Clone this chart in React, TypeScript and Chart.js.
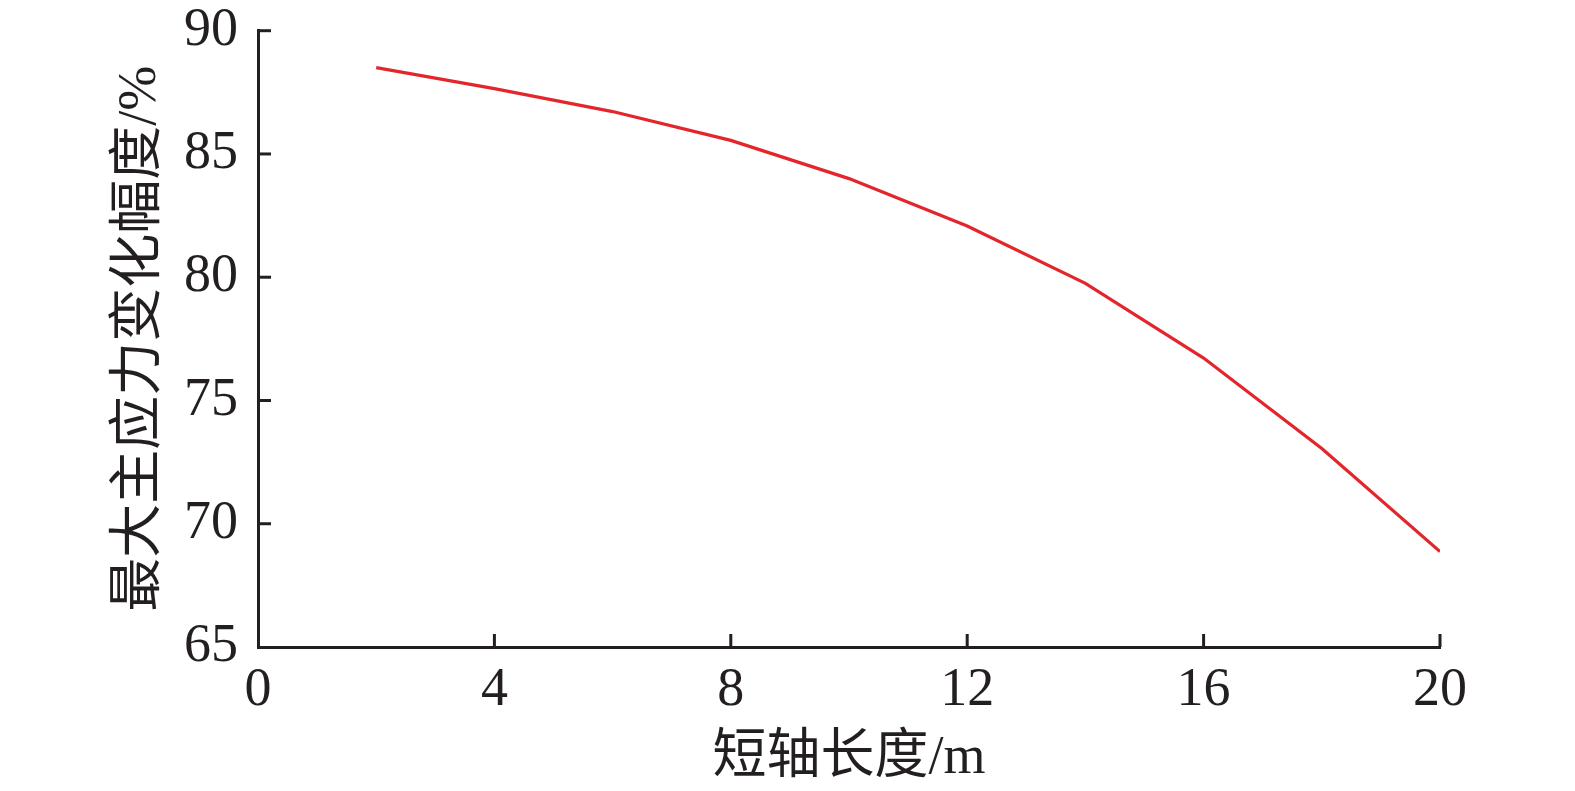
import React, { useEffect, useRef } from "react";
import { Chart, registerables } from "chart.js";

Chart.register(...registerables);

const xValues = [2, 4, 6, 8, 10, 12, 14, 16, 18, 20];
const yValues = [88.5, 87.65, 86.72, 85.55, 84.0, 82.08, 79.75, 76.72, 73.05, 68.87];
const xTitle = "短轴长度/m";
const yTitle = "最大主应力变化幅度/%";
const xMin = 0, xMax = 20, xStep = 4;
const yMin = 65, yMax = 90, yStep = 5;

const W = 1575, H = 791;
const INK = "#231f20";
const FONT = "'Liberation Serif', 'Noto Sans CJK SC', serif";

const innerTicks = {
  id: "innerTicks",
  afterDraw(chart: any) {
    const { ctx, chartArea } = chart;
    const xs = chart.scales.x, ys = chart.scales.y;
    ctx.save();
    ctx.strokeStyle = INK;
    ctx.lineWidth = 3;
    const len = 13;
    ys.ticks.forEach((t: any) => {
      const py = ys.getPixelForValue(t.value);
      if (t.value === yMin) return;
      ctx.beginPath();
      ctx.moveTo(chartArea.left, py);
      ctx.lineTo(chartArea.left + len, py);
      ctx.stroke();
    });
    xs.ticks.forEach((t: any) => {
      const px = xs.getPixelForValue(t.value);
      if (t.value === xMin) return;
      ctx.beginPath();
      ctx.moveTo(px, chartArea.bottom);
      ctx.lineTo(px, chartArea.bottom - len);
      ctx.stroke();
    });
    ctx.restore();
  },
};

export default function App() {
  const ref = useRef<HTMLCanvasElement>(null);
  useEffect(() => {
    if (!ref.current) return;
    const chart = new Chart(ref.current, {
      type: "line",
      data: {
        datasets: [
          {
            data: xValues.map((x, i) => ({ x, y: yValues[i] })),
            borderColor: "#e3262c",
            borderWidth: 3.2,
            pointRadius: 0,
            fill: false,
            tension: 0,
          },
        ],
      },
      options: {
        responsive: false,
        animation: false,
        layout: { padding: { top: 30.7, right: 135, left: 0, bottom: 0 } },
        plugins: { legend: { display: false }, tooltip: { enabled: false } },
        scales: {
          x: {
            type: "linear",
            min: xMin,
            max: xMax,
            afterFit: (s: any) => { s.height = 144; s.paddingLeft = 0; s.paddingRight = 0; },
            ticks: { stepSize: xStep, color: INK, font: { family: FONT, size: 54 }, padding: 11, maxRotation: 0 },
            grid: { display: false, drawTicks: false },
            border: { display: true, color: INK, width: 3 },
            title: { display: true, text: xTitle, color: INK, font: { family: FONT, size: 54, lineHeight: 1.2 }, padding: { top: 8.6, bottom: 0 } },
          },
          y: {
            type: "linear",
            min: yMin,
            max: yMax,
            afterFit: (s: any) => { s.width = 258; s.paddingTop = 0; s.paddingBottom = 0; },
            ticks: { stepSize: yStep, color: INK, font: { family: FONT, size: 54 }, padding: 20 },
            grid: { display: false, drawTicks: false },
            border: { display: true, color: INK, width: 3 },
            title: { display: true, text: yTitle, color: INK, font: { family: FONT, size: 54, lineHeight: 1.2 }, padding: { top: 108, bottom: 0 } },
          },
        },
      },
      plugins: [innerTicks],
    });
    return () => chart.destroy();
  }, []);
  return (
    <div style={{ position: "absolute", left: 0, top: 0, width: W, height: H, background: "#fff" }}>
      <canvas ref={ref} width={W} height={H} style={{ display: "block" }} />
    </div>
  );
}
